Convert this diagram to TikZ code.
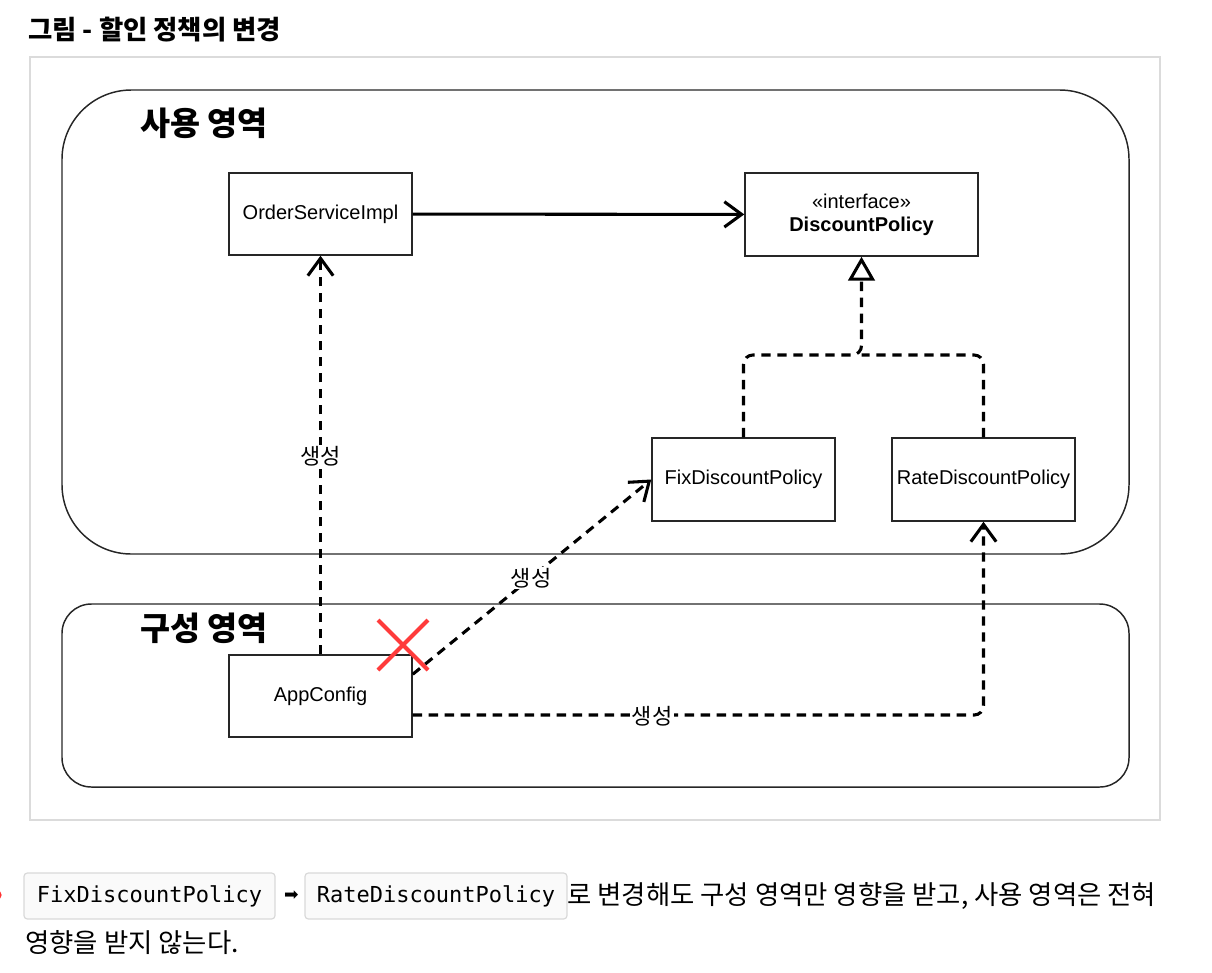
\documentclass[tikz,border=0pt]{standalone}
\usepackage{fontspec}
\setmainfont{Liberation Sans}
\newfontfamily\kr{Noto Sans CJK KR}
\newfontfamily\mono{DejaVu Sans Mono}
\newfontfamily\sym{DejaVu Sans}
\usetikzlibrary{arrows.meta,calc}
\tikzset{
  umlbox/.style={draw=black!85, line width=1.1pt, inner sep=0pt, minimum width=137.25pt, minimum height=61.5pt, font=\fontsize{15}{18}\selectfont},
  region/.style={draw=black!85, line width=1.1pt, inner sep=0pt},
  regionlabel/.style={anchor=west, inner sep=0pt, font=\kr\bfseries\fontsize{24.5}{28}\selectfont},
  conn/.style={line width=2.3pt, black},
  dashconn/.style={conn, dash pattern=on 7pt off 5pt},
  openv/.style={-{Straight Barb[length=13pt,width=19pt]}},
  realize/.style={-{Triangle[open,length=18pt,width=20pt]}},
  lbl/.style={fill=white, inner sep=1pt, font=\kr\fontsize{16.5}{20}\selectfont},
  chip/.style={draw=black!15, fill=black!2, line width=0.9pt, rounded corners=2.5pt, inner sep=0pt, minimum height=34.5pt, font=\mono\fontsize{16.5}{20}\selectfont},
  bodytext/.style={anchor=west, inner sep=0pt, font=\kr\fontsize{19.8}{24}\selectfont},
  redx/.style={line width=3pt, draw={rgb,255:red,255;green,59;blue,59}}
}
\begin{document}
\begin{tikzpicture}[x=0.75pt,y=-0.75pt]
\useasboundingbox (0,0) rectangle (1212,972);
% title
\node[anchor=west, inner sep=0pt, font=\kr\bfseries\fontsize{19.8}{24}\selectfont] (title) at (28,30) {그림 - 할인 정책의 변경};
% outer frame
\node[draw=black!14, line width=1.5pt, inner sep=0pt, minimum width=847.5pt, minimum height=572.25pt] (frame) at (595,438.5) {};
% regions
\node[region, rounded corners=52pt, minimum width=800.25pt, minimum height=348pt] (usearea) at (595.5,322) {};
\node[region, rounded corners=22pt, minimum width=800.25pt, minimum height=137.25pt] (cfgarea) at (595.5,695.5) {};
\node[regionlabel] (uselbl) at (140,123) {사용 영역};
\node[regionlabel] (cfglbl) at (140,628) {구성 영역};
% classes
\node[umlbox] (osi) at (320.5,214) {OrderServiceImpl};
\node[umlbox, minimum width=174.75pt, minimum height=62.25pt, align=center] (dp) at (861.5,214.5) {«interface»\\[-1pt]\textbf{DiscountPolicy}};
\node[umlbox, minimum height=62.25pt] (fix) at (743.5,479.5) {FixDiscountPolicy};
\node[umlbox, minimum height=62.25pt] (rate) at (983.5,479.5) {RateDiscountPolicy};
\node[umlbox] (app) at (320.5,696) {AppConfig};
% connectors
\draw[conn, openv] (osi) -- (dp);
\coordinate (ylevel) at (0,355);
\coordinate (merge) at (dp.south |- ylevel);
\draw[dashconn, rounded corners=7pt, realize] (fix.north) |- (merge) -- (dp.south);
\draw[dashconn, rounded corners=7pt] (rate.north) |- (merge);
\draw[dashconn, openv] (app.north) -- (osi.south);
\coordinate (appne) at ($(app.north east)+(0,20)$);
\draw[dashconn, openv] (appne) -- (fix.west);
\coordinate (appe) at ($(app.east)+(0,19)$);
\draw[dashconn, openv, rounded corners=7pt] (appe) -| (rate.south);
% labels
\node[lbl] (l1) at (320.5,456) {생성};
\node[lbl] (l2) at (531,578) {생성};
\node[lbl] (l3) at (652,716) {생성};
% red cross
\draw[redx] (378,620) -- (428,670);
\draw[redx] (378,670) -- (428,620);
% bottom text
\fill[red!80] (-3,895) circle (3.5pt);
\node[chip, minimum width=188.25pt] (c1) at (149.5,896) {FixDiscountPolicy};
\node[inner sep=0pt, font=\sym\fontsize{13}{15}\selectfont] (arr) at (291.5,896) {➡};
\node[chip, minimum width=196.5pt] (c2) at (436,896) {RateDiscountPolicy};
\node[bodytext] (t1) at (567,896) {로 변경해도 구성 영역만 영향을 받고, 사용 영역은 전혀};
\node[bodytext] (t2) at (25,943) {영향을 받지 않는다.};
\end{tikzpicture}
\end{document}
